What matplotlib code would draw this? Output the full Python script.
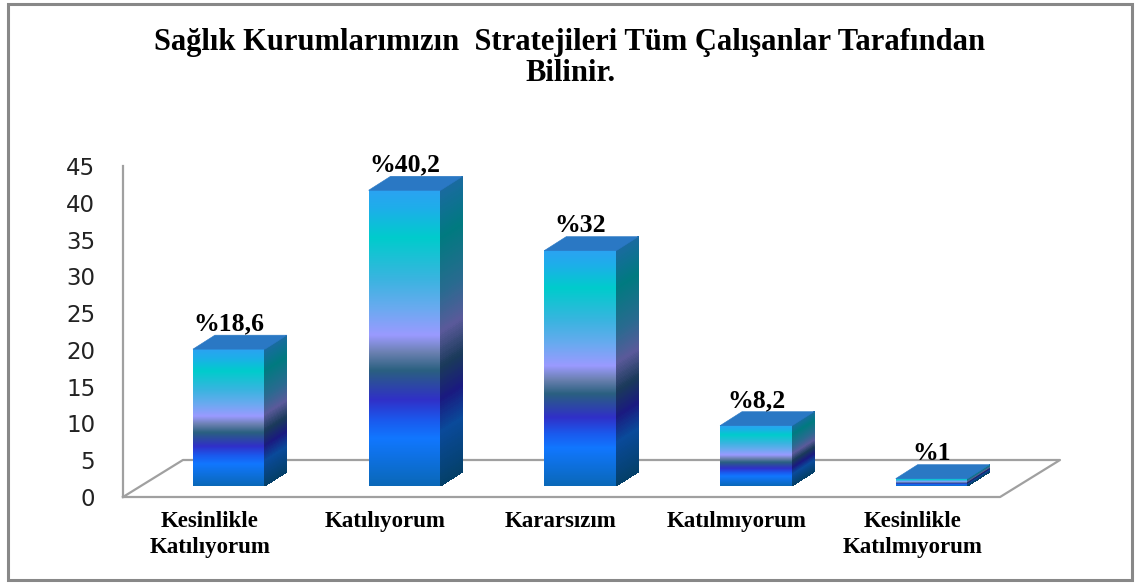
import numpy as np
import matplotlib.pyplot as plt
from matplotlib.collections import PolyCollection
from matplotlib.colors import LinearSegmentedColormap
from matplotlib.patches import Rectangle, Polygon

# Sağlık kurumları anketi - 3B sütun grafiği

categories = ["Kesinlikle\nKatılıyorum", "Katılıyorum", "Kararsızım",
              "Katılmıyorum", "Kesinlikle\nKatılmıyorum"]
values = [18.6, 40.2, 32, 8.2, 1]
value_labels = ["%18,6", "%40,2", "%32", "%8,2", "%1"]
title = "Sağlık Kurumlarımızın  Stratejileri Tüm Çalışanlar Tarafından\nBilinir."

# renk geçişleri (üstten alta)
front_cmap = LinearSegmentedColormap.from_list("front", [
    (0.00, "#2ba3f2"), (0.06, "#1eaeea"), (0.16, "#00cccc"), (0.30, "#3ab4e0"),
    (0.40, "#6aaaf0"), (0.49, "#9a9aff"), (0.55, "#6a80b0"), (0.61, "#2a6080"),
    (0.71, "#3030c8"), (0.78, "#1a5aee"), (0.84, "#1177ff"), (1.00, "#0a68b8")])
side_cmap = LinearSegmentedColormap.from_list("side", [
    (0.00, "#1a6aa0"), (0.16, "#007a80"), (0.35, "#2a6a90"), (0.48, "#5a5a9a"),
    (0.60, "#1a3a5a"), (0.71, "#1a1a80"), (0.82, "#0a4a9a"), (1.00, "#04406a")])
top_color = "#2a78c4"

half_w = 0.205   # ön yüz yarı genişliği
dx, dy = 0.125, 1.9   # derinlik kayması
base = 1.5
n = 150

fig = plt.figure(figsize=(11.41, 5.84), dpi=100)
ax = fig.add_axes([123 / 1141, 87 / 584, 937 / 1141, 331 / 584])

# zemin
floor_x = [-0.603, 4.389, 4.730, -0.262, -0.603]
floor_y = [0, 0, 5.03, 5.03, 0]
ax.plot(floor_x, floor_y, color="#a0a0a0", lw=1.6, clip_on=False, zorder=1)

grad = np.linspace(0, 1, 256).reshape(-1, 1)
for i, v in enumerate(values):
    xl, xr = i - half_w, i + half_w
    yb, yt = base, base + v
    ax.imshow(grad, cmap=front_cmap, aspect="auto", extent=(xl, xr, yb, yt),
              origin="upper", interpolation="bilinear", zorder=3)
    f = np.linspace(0, 1, n + 1)
    ys = yt - f * v
    sides = []
    for k in range(n):
        y0, y1 = ys[k + 1], ys[k]
        sides.append([(xr, y0), (xr + dx, y0 + dy), (xr + dx, y1 + dy), (xr, y1)])
    cols = (f[:-1] + f[1:]) / 2
    ps = PolyCollection(sides, facecolors=side_cmap(cols), edgecolors="none",
                        antialiaseds=False, zorder=3)
    ax.add_collection(ps)
    ax.add_patch(Polygon([(xl, yt), (xr, yt), (xr + dx, yt + dy), (xl + dx, yt + dy)],
                         closed=True, facecolor=top_color, edgecolor=top_color,
                         lw=0.4, zorder=4))
    ax.text(i, yt + dy + 1.5, value_labels[i], ha="center", va="center",
            family="Liberation Serif", weight="bold", fontsize=18.5, color="black", zorder=5)

ax.set_xlim(-0.603, 4.730)
ax.set_ylim(0, 45)

for s in ["top", "right", "bottom"]:
    ax.spines[s].set_visible(False)
ax.spines["left"].set_color("#a0a0a0")
ax.spines["left"].set_linewidth(1.6)

ax.set_yticks(range(0, 50, 5))
ax.tick_params(axis="y", length=0, pad=20, labelsize=16.5, labelcolor="#222222")
ax.set_xticks(np.arange(len(categories)) - 0.11)
ax.set_xticklabels(categories, family="Liberation Serif", weight="bold", fontsize=16.5,
                   linespacing=1.3)
ax.tick_params(axis="x", length=0, pad=10)
ax.patch.set_alpha(0)

fig.text(0.4996, 1 - 58 / 584, title, ha="center", va="center",
         family="Liberation Serif", weight="bold", fontsize=22, linespacing=1.08)

fig.add_artist(Rectangle((7.5 / 1141, 4 / 584), 1124.5 / 1141, 576 / 584,
                         transform=fig.transFigure, fill=False,
                         edgecolor="#888888", lw=2.2))

fig.savefig("out.png", dpi=100)
